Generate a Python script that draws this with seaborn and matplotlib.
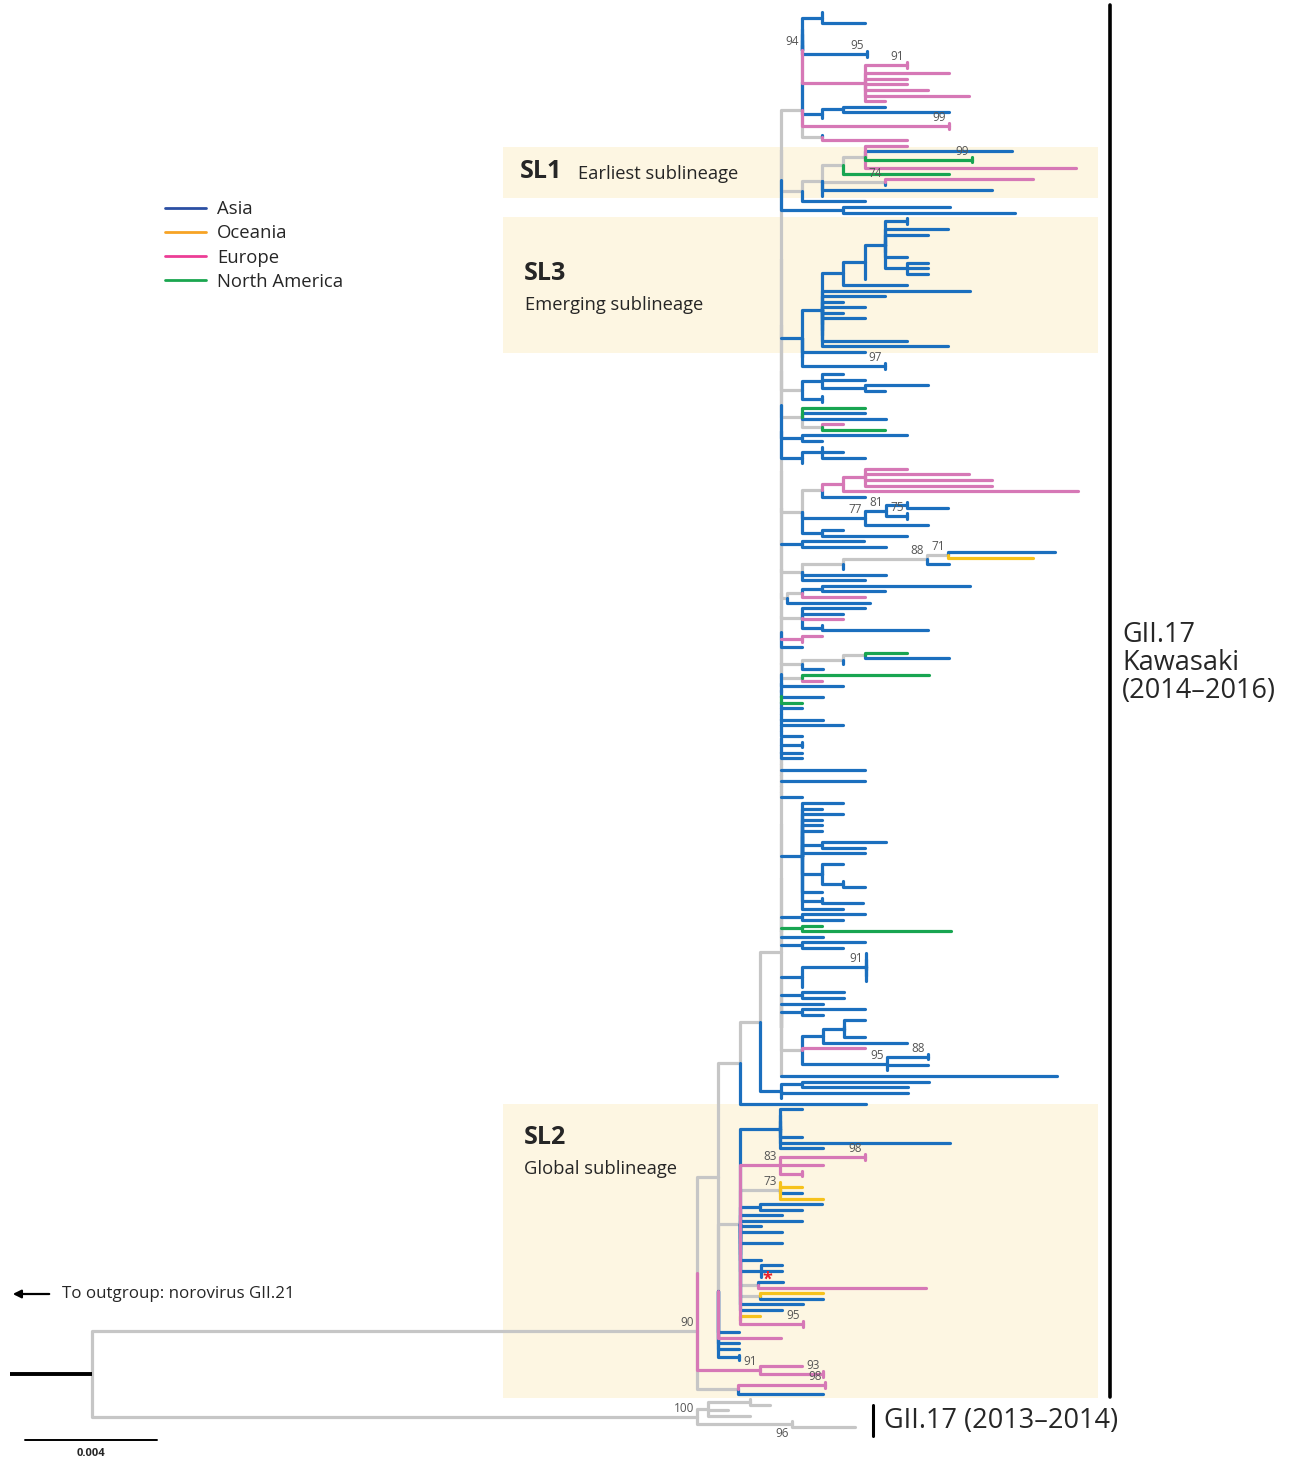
import matplotlib
matplotlib.use("Agg")
import matplotlib.pyplot as plt
from matplotlib.lines import Line2D
from matplotlib.patches import Rectangle
import pandas as pd
import seaborn as sns

# ---------------------------------------------------------------------------
# Tree data: clades written as Newick strings. Branch lengths are in
# scale-bar units (132 units = 0.004 substitutions/site). Node labels are a
# region code (A Asia, O Oceania, E Europe, N North America, G unassigned)
# followed by an optional bootstrap value.
# ---------------------------------------------------------------------------
SCALE_BAR_UNITS = 132
SCALE_BAR_LABEL = "0.004"
OUTGROUP_STUB = 82

CLADE_94 = ("((A:0,A:0,A:43)A:20,A:0,A:0,A:0,A:0,(A:0,A:0)A95:65,"
            "((E:0,E:0)E91:42,E:84,E:42,E:42,E:63,E:104,E:20)E:63)G94:0")
CLADE_TOP_BLUE = "((A:42,A:106)A:21,A:0)A:20"
CLADE_TOP = f"(({CLADE_94},{CLADE_TOP_BLUE})G:0,(E:0,E:0)E99:147,(A:0,E:85)G:20)G:21"

SL1_INNER = "((E:42,A:147,(N:0,N:0)N99:107,E:211)G:22,N:106)G:21"
SL1_CLADE = f"(({SL1_INNER},(E:148,A:0)G74:63,A:170,A:0)G:20,A:63)G:21"
CLADE_S3 = "(A:107,A:172)A:62"

SL3_TIP = "((A:0,A:0)A:22,A:63,A:43,A:0,A:0,A:0,A:22,(A:21,A:21,A:21)A:22)A:20"
SL3_CLADE = (f"(((({SL3_TIP},A:0)A:22,A:64)A:21,A:148,A:63,A:21,A:43,A:21,A:43,"
             "A:0,A:0,A:0,A:85,A:126)A:20,A:63,A:0,(A:0,A:0)A97:83)A:21")

MID_CLADES = [
    "((A:21,A:43,(A:63,A:20)A:43)A:20,(A:0,A:0)A:20)G:21",
    "(N:63,A:63,A:84,(E:21,N:63)G:20)G:21",
    "(A:105,A:20)A:21",
    "((A:0,A:21,A:43)A:20,A:0)A:21",
    "((((E:42,E:104,E:127,E:127)E:22,E:235)E:21,A:43)G:20,"
    "(((A:0,A:41)A:21,(A:0,A:0)A75:21)A81:21,A:63)A77:63,(A:21,A:85)A:20)G:21",
    "((A:62,A:84)A:21)G:0",
    "(((((A:107,O:85)G71:21,A:22)G88:84,A:0)G:41),A:84,A:63)G:21",
    "(((A:148,A:63)A:20,E:63)G:15,A:83)G:6",
    "(A:63,A:41,E:41,(A:0,A:106)A:20)G:21",
    "((E:20,E:0)E:21)G:0",
    "A:21",
    "(((N:42,A:84)G:22,A:0)G:41,A:21)G:21",
    "(N:127,E:20)G:21",
    "A:62",
]
SPINE_TIPS = ["A:0", "A:42", "N:21", "A:21", "A:0", "A:42", "A:62", "A:0", "A:21",
              "(A:0,A:0)A:21", "A:21", "A:21"]
SPINE_TIPS_LATE = ["A:0", "A:84", "A:0", "A:84", "A:0", "A:0", "A:21"]
CLADE_BIG = ("(A:41,A:20,A:41,A:20,A:20,A:20,A:0,(A:64,A:43)A:20,A:63,A:0,"
             "(A:21,A:0,A:0,(A:0,A:22)A:21)A:20,A:20,(A:0,A:41)A:20,A:41)A:21")
SMALL_PARTS = ["(A:63,A:41)A:21", "(N:20,N:149)N:21", "A:42", "(A:63,A:41)A:21"]
LOWER_PARTS = [
    "((A:0,A:0,A:0,A:0,A:0,A:0)A91:64,A:0)A:21",
    "(A:42,A:42)A:21",
    "A:42",
    "(A:63,A:21)A:21",
    "(((A:21,A:0,A:0,A:21)A:21,A:84)A:21,E:63,((A:0,A:0)A88:41,A:41,A:0)A95:85)G:21",
    "A:276",
]
CLADE_781B = "((A:127,A:106)A:21,A:127,A:0)A:21"

SL2_PARTS = [
    "(A:22,A:0,A:0,A:0,A:0,A:22,A:170,A:43)A:40",
    "((E:0,E:0)E98:85,E:43,(E:0,E:0)E:22)E83:40",
    "(O:0,O:22,A:22,O:43)G73:40",
    "(A:62,A:42)A:20", "A:42", "A:62", "A:21", "A:42", "A:0", "A:42", "A:0", "A:0", "A:21",
    "(A:21,A:21,A*:0)A:21",
    "(A:25,E:168)G:18",
    "(O:63,A:63)G:20",
    "A:63", "A:42",
    "(O:20,(E:0,E:0)E95:63)E:0",
]
SL2_LOWER = "A:21,E:63,A:21,A:21,(A:0,A:0)A:21"
CLADE_E91 = "(E:42,(E:0,E:0)E93:63)E91:63"
CLADE_G98 = "((E:0,E:0)E98:87,A:85)G:41"
CLADE_2013 = "(((G:0,G:20)G:42,G:20,G:42)G:11,(G:0,G:63)G96:95)G100:605"

REGIONS = ["G", "A", "O", "E", "N"]
REGION_COLORS = {"G": "#c6c6c6", "A": "#1b6fbe", "O": "#f6c21c",
                 "E": "#d678b6", "N": "#18a551"}
LEGEND_LABELS = ["Asia", "Oceania", "Europe", "North America"]
LEGEND_COLORS = ["#2b4fa3", "#f7a325", "#ec3d96", "#1aa64f"]
BELOW_LABELS = {"96"}


def ladder(parts):
    node = parts[0]
    for p in parts[1:]:
        node = f"({node},{p})G:0"
    return node


def gray_link(clade):
    # zero-length unassigned node on the backbone in front of a clade
    return f"({clade})G:0"


upper = ladder([CLADE_TOP, SL1_CLADE, CLADE_S3, gray_link(SL3_CLADE)] + MID_CLADES
               + SPINE_TIPS + [gray_link(t) for t in SPINE_TIPS_LATE]
               + [gray_link(CLADE_BIG),
                  "(" + ",".join(gray_link(p) for p in SMALL_PARTS) + ")G:0"])
lower = "(" + ",".join(gray_link(p) for p in LOWER_PARTS) + ")G:0"
spine = f"({upper},{lower})G:21"
n740a = f"(({spine},{CLADE_781B})G:20,A:126)G:22"
n740b = "(" + ",".join(SL2_PARTS) + ")G:22"
n718 = f"({n740a},({n740b},{SL2_LOWER})G:0)G:21"
n90 = f"(({n718},{CLADE_E91})G:0,{CLADE_G98})G90:605"
TREE = f"({n90},{CLADE_2013})G:0"


def parse_newick(text):
    s = text.replace(" ", "")
    pos = 0

    def read():
        nonlocal pos
        kids = []
        if s[pos] == "(":
            pos += 1
            while True:
                kids.append(read())
                ch = s[pos]
                pos += 1
                if ch == ")":
                    break
        start = pos
        while pos < len(s) and s[pos] not in ":,()":
            pos += 1
        label = s[start:pos]
        length = 0.0
        if pos < len(s) and s[pos] == ":":
            pos += 1
            start = pos
            while pos < len(s) and s[pos] not in ",()":
                pos += 1
            length = float(s[start:pos])
        return {"region": label[:1] or "G", "support": label[1:],
                "length": length, "children": kids}

    return read()


def count_leaves(node):
    if not node["children"]:
        return 1
    return sum(count_leaves(c) for c in node["children"])


# ── Layout (figure in pixel units) ─────────────────────────────────────────
ROOT_X = 92
Y_TOP, Y_BOTTOM = 12, 1427

root = parse_newick(TREE)
n_leaves = count_leaves(root)
step = (Y_BOTTOM - Y_TOP) / (n_leaves - 1)
leaf_counter = [0]


def layout(node, parent_x):
    node["x"] = parent_x + node["length"]
    if node["children"]:
        for c in node["children"]:
            layout(c, node["x"])
        node["y"] = (node["children"][0]["y"] + node["children"][-1]["y"]) / 2
    else:
        node["y"] = Y_TOP + leaf_counter[0] * step
        leaf_counter[0] += 1


layout(root, ROOT_X)

rows, labels = [], []


def collect(node, seg=[0]):
    for c in node["children"]:
        sid = seg[0]
        seg[0] += 1
        rows.append((sid, node["x"], node["y"], c["region"]))
        rows.append((sid, node["x"], c["y"], c["region"]))
        rows.append((sid, c["x"], c["y"], c["region"]))
        if c["support"]:
            labels.append((c["x"], c["y"], c["support"]))
        collect(c, seg)


collect(root)
segments = pd.DataFrame(rows, columns=["seg", "x", "y", "region"])

# ── Figure ─────────────────────────────────────────────────────────────────
sns.set_theme(style="white")
plt.rcParams["font.family"] = ["Open Sans", "DejaVu Sans"]

fig = plt.figure(figsize=(12.96, 14.6), dpi=100)
ax = fig.add_axes([0, 0, 1, 1])

# sublineage boxes
for y0, y1 in [(147, 198), (217, 353), (1104, 1398)]:
    ax.add_patch(Rectangle((503, y0), 595, y1 - y0, color="#fdf6e2", zorder=0, lw=0))

sns.lineplot(data=segments, x="x", y="y", units="seg", estimator=None, hue="region",
             hue_order=REGIONS, palette=REGION_COLORS, sort=False, legend=False,
             linewidth=2.3, ax=ax, zorder=3)

for x, y, s in labels:
    if s == "*":
        ax.text(x + 6, y + 3, "*", color="#e8202a", fontsize=13, fontweight="bold",
                ha="center", va="center", zorder=5)
    elif s in BELOW_LABELS:
        ax.text(x - 3, y + 3, s, fontsize=8.5, color="#555555", ha="right", va="top", zorder=5)
    else:
        ax.text(x - 3, y - 2, s, fontsize=8.5, color="#555555", ha="right", va="bottom", zorder=5)

# root stub towards outgroup
ax.plot([root["x"] - OUTGROUP_STUB, root["x"]], [root["y"], root["y"]],
        color="black", lw=2.8, solid_capstyle="butt", zorder=4)
ax.annotate("", xy=(10, 1294), xytext=(52, 1294),
            arrowprops=dict(arrowstyle="-|>", color="black", lw=1.6, mutation_scale=12))
ax.text(62, 1294, "To outgroup: norovirus GII.21", fontsize=12.2, va="center", ha="left")

# scale bar
ax.plot([25, 25 + SCALE_BAR_UNITS], [1440, 1440], color="black", lw=1.4)
ax.text(25 + SCALE_BAR_UNITS / 2, 1453, SCALE_BAR_LABEL, fontsize=8, fontweight="bold",
        ha="center", va="center")

# sublineage labels
ax.text(520, 172, "SL1", fontsize=18, fontweight="bold", va="center")
ax.text(578, 174, "Earliest sublineage", fontsize=13.2, va="center")
ax.text(524, 274, "SL3", fontsize=18, fontweight="bold", va="center")
ax.text(525, 305, "Emerging sublineage", fontsize=13.2, va="center")
ax.text(524, 1137, "SL2", fontsize=18, fontweight="bold", va="center")
ax.text(524, 1169, "Global sublineage", fontsize=13.2, va="center")

# genotype brackets
ax.plot([1110, 1110], [5, 1397], color="black", lw=2.6)
ax.text(1122, 663, "GII.17\nKawasaki\n(2014–2016)", fontsize=19.5, va="center", ha="left",
        linespacing=1.02)
ax.plot([873, 873], [1405, 1436], color="black", lw=2.2)
ax.text(884, 1421, "GII.17 (2013–2014)", fontsize=19.5, va="center", ha="left")

# legend
handles = [Line2D([0], [0], color=c, lw=2) for c in LEGEND_COLORS]
ax.legend(handles, LEGEND_LABELS, loc="upper left", bbox_to_anchor=(158 / 1296, 1 - 193 / 1460),
          frameon=False, fontsize=13.3, handlelength=2.2, handletextpad=0.6,
          labelspacing=0.33, borderaxespad=0)

ax.set_xlim(0, 1296)
ax.set_ylim(1460, 0)
ax.axis("off")

fig.savefig("out.png", dpi=100)
plt.close(fig)
